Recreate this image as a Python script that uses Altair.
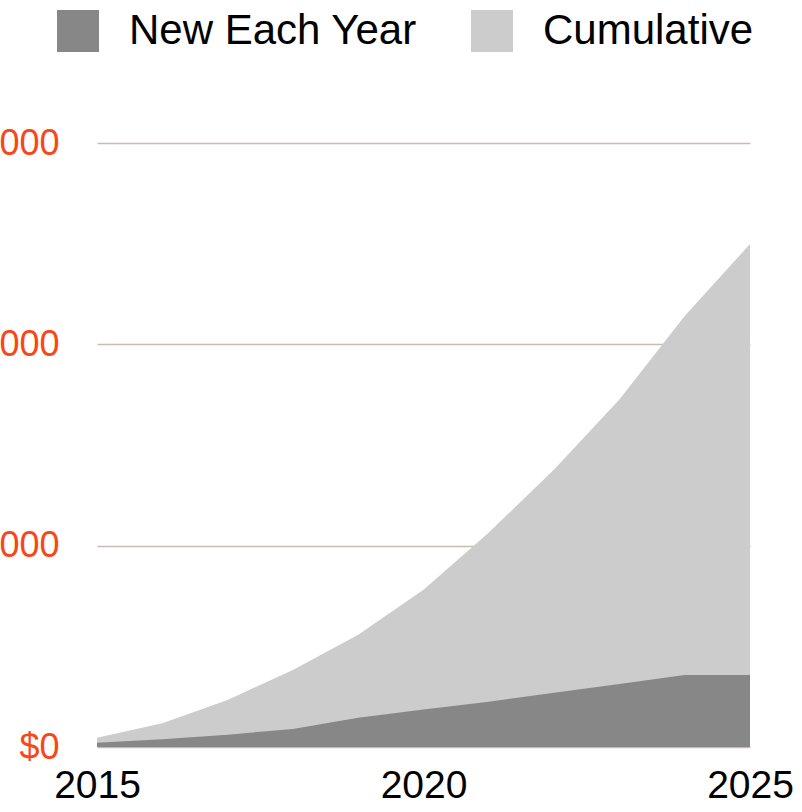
import altair as alt
import pandas as pd

years = [2015, 2016, 2017, 2018, 2019, 2020, 2021, 2022, 2023, 2024, 2025]
new_each_year = [21, 38, 61, 90, 145, 186, 225, 270, 313, 358, 358]
cumulative = [46, 118, 234, 383, 557, 781, 1065, 1378, 1726, 2141, 2498]

series_names = ["New Each Year", "Cumulative"]
series_colors = ["#878787", "#cccccc"]
y_ticks = [0, 1000, 2000, 3000]
x_ticks = [2015, 2020, 2025]

df_new = pd.DataFrame({"year": years, "value": new_each_year, "series": series_names[0]})
df_cum = pd.DataFrame({"year": years, "value": cumulative, "series": series_names[1]})

FONT = "Liberation Sans"

x_enc = alt.X(
    "year:Q",
    scale=alt.Scale(domain=[2015, 2025], nice=False, zero=False),
    axis=alt.Axis(
        values=x_ticks, format="d", title=None, grid=False, domain=False, ticks=False,
        labelFont=FONT, labelFontSize=39, labelColor="#000000", labelPadding=19,
        labelFlush=False, labelOverlap=False,
    ),
)
y_enc = alt.Y(
    "value:Q",
    stack=None,
    scale=alt.Scale(domain=[0, 3000], nice=False),
    axis=alt.Axis(
        values=y_ticks, format="$,.0f", title=None, grid=True, domain=False, ticks=False,
        gridColor="#cbbab2", gridWidth=1.5,
        labelFont=FONT, labelFontSize=36, labelColor="#fa4616", labelPadding=38,
        labelBaseline="middle",
    ),
)
color_enc = alt.Color(
    "series:N",
    scale=alt.Scale(domain=series_names, range=series_colors),
    legend=alt.Legend(
        title=None, orient="none", direction="horizontal", legendX=-40, legendY=-133,
        symbolType="square", symbolSize=1764, symbolStrokeWidth=0, symbolOpacity=1,
        labelFont=FONT, labelFontSize=42, labelColor="#000000", labelOffset=30,
        columnPadding=54, padding=0, labelLimit=400,
    ),
)

cum_layer = alt.Chart(df_cum).mark_area(interpolate="linear", opacity=1).encode(
    x=x_enc, y=y_enc, color=color_enc
)
new_layer = alt.Chart(df_new).mark_area(interpolate="linear", opacity=1).encode(
    x=x_enc, y=y_enc, color=color_enc
)

chart = (
    alt.layer(cum_layer, new_layer)
    .properties(
        width=653, height=604,
        background="#ffffff",
        autosize=alt.AutoSizeParams(type="none"),
        padding={"left": 97, "top": 143, "right": 52, "bottom": 65},
    )
    .configure_view(stroke="transparent", strokeWidth=0)
)

chart.save("out.html", embed_options={"renderer": "svg", "actions": False})
